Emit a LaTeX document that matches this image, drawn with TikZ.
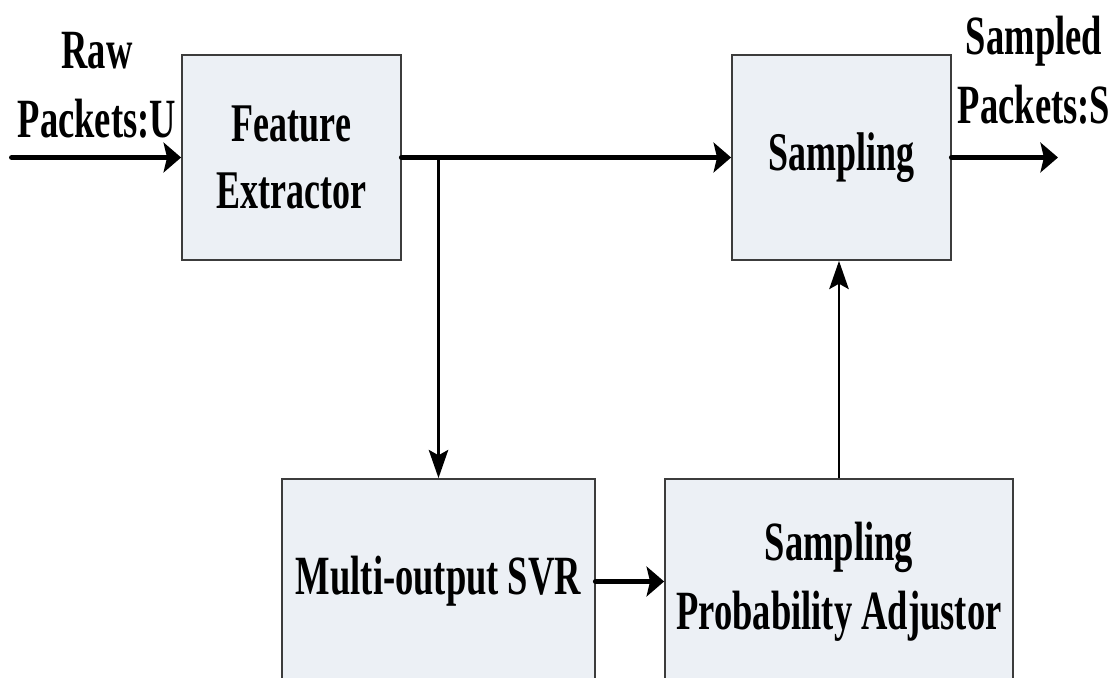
\documentclass[tikz,border=0pt]{standalone}
\usepackage{fontspec}
\usetikzlibrary{arrows.meta}
\newfontfamily\bigfont{Liberation Serif}[FakeStretch=0.66]
\definecolor{boxfill}{RGB}{236,240,245}
\definecolor{boxline}{RGB}{60,60,60}

\begin{document}
\begin{tikzpicture}[
       blok/.style={
         draw=boxline,
         fill=boxfill,
         line width=1pt,
         minimum height=4.1cm,
         align=center,
         inner sep=0pt
       },
       klein/.style={font=\bigfont\bfseries\fontsize{31}{38.5}\selectfont},
       groot/.style={font=\bigfont\bfseries\fontsize{31.5}{39.5}\selectfont},
       hpijl/.style={
         line width=3.4pt,
         line cap=round,
         -{Stealth[length=10pt,width=17pt,inset=2pt]}
       },
       vpijl/.style={
         line width=1.7pt,
         -{Stealth[length=16pt,width=11pt,inset=3pt]}
       }
     ]

       \useasboundingbox (0,0) rectangle (22.3,13.56);
       \clip (0,0) rectangle (22.3,13.56);

       \node (fe) at (5.83,10.41) [blok,klein,minimum width=4.38cm]{Feature\\Extractor};
       \node (samp) at (16.83,10.41) [blok,klein,minimum width=4.38cm]{Sampling};
       \node (svr) at (8.77,1.93) [blok,groot,minimum width=6.26cm]{Multi-output SVR};
       \node (adj) at (16.78,1.93) [blok,groot,minimum width=6.96cm]{Sampling\\Probability Adjustor};

       \node (rawlab) at (1.94,11.85) [groot,align=center,inner sep=0pt]{Raw\\Packets:U};
       \node (outlab) at (20.68,12.16) [groot,align=center,inner sep=0pt]{Sampled\\Packets:S};

       \coordinate (in) at (0.24,10.41);
       \coordinate (out) at (21.16,10.41);

       \draw [hpijl] (in) -- (fe.west);
       \draw [hpijl] (fe.east) -- (samp.west);
       \draw [hpijl] (samp.east) -- (out);
       \draw [hpijl] (svr.east) -- (adj.west);

       \draw [vpijl] (fe.east -| svr.north) -- (svr.north);
       \draw [vpijl] (adj.north) -- (adj.north |- samp.south);

\end{tikzpicture}
\end{document}
